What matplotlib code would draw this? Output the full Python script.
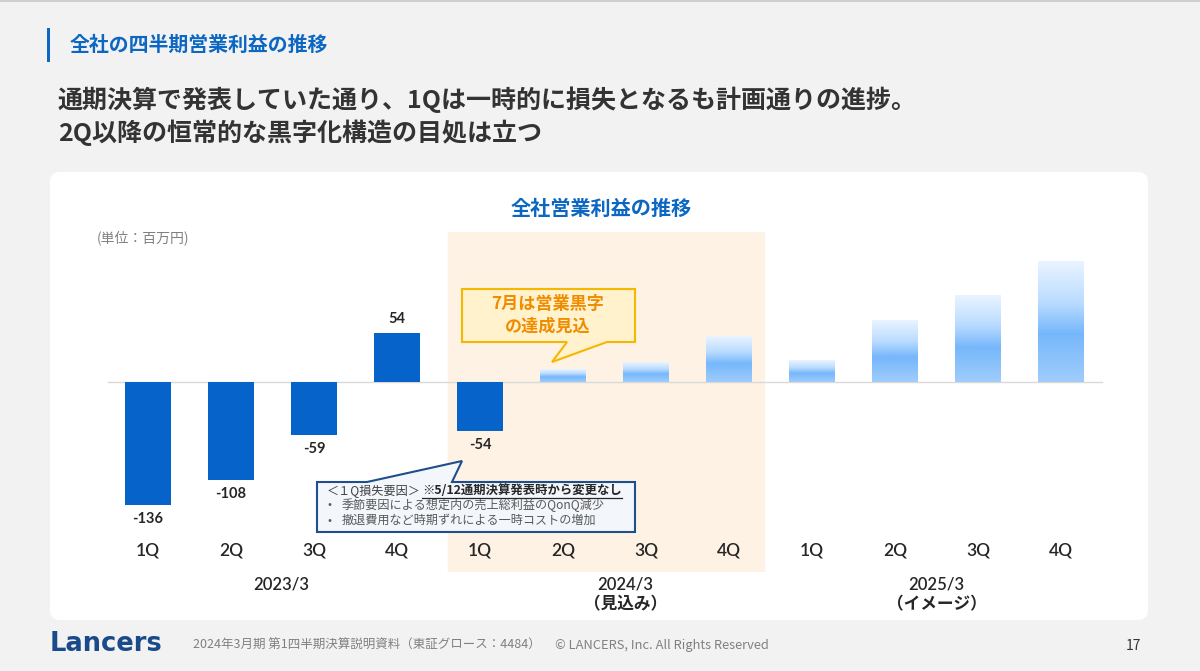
import numpy as np
import matplotlib
matplotlib.use('Agg')
import matplotlib.pyplot as plt
from matplotlib.patches import FancyBboxPatch, Polygon, Rectangle
from matplotlib.colors import LinearSegmentedColormap

plt.rcParams['font.family'] = ['Noto Sans CJK JP', 'DejaVu Sans']
latin = ['Lato', 'Noto Sans CJK JP', 'DejaVu Sans']

# data (百万円)
quarters = ['1Q', '2Q', '3Q', '4Q'] * 3
actual = [-136, -108, -59, 54, -54]          # 2023/3 1Q-4Q, 2024/3 1Q
outlook = [14, 22, 50, 24, 68, 96, 133]      # 2024/3 2Q-4Q, 2025/3 image bars (no values shown)
years = ['2023/3', '2024/3\n（見込み）', '2025/3\n（イメージ）']

blue = '#0b67c2'
bar_blue = '#0563c9'

fig = plt.figure(figsize=(12, 6.71), dpi=100)
fig.patch.set_facecolor('#f2f2f2')

# background layer in pixel coordinates
bg = fig.add_axes([0, 0, 1, 1], zorder=0)
bg.set_xlim(0, 1200)
bg.set_ylim(671, 0)
bg.axis('off')
bg.add_patch(Rectangle((0, 0), 1200, 2, fc='#cfcfcf', ec='none'))
bg.add_patch(FancyBboxPatch((50, 172), 1098, 448, boxstyle='round,pad=0,rounding_size=10',
                            fc='white', ec='none'))
bg.add_patch(Rectangle((47, 28), 3, 34, fc=blue, ec='none'))
bg.text(70, 44, '全社の四半期営業利益の推移', fontsize=14.3, fontweight='bold', color=blue, va='center')
bg.text(58, 100, '通期決算で発表していた通り、1Qは一時的に損失となるも計画通りの進捗。',
        fontsize=18, fontweight='bold', color='#333333', va='center')
bg.text(58, 133, '2Q以降の恒常的な黒字化構造の目処は立つ',
        fontsize=18, fontweight='bold', color='#333333', va='center')
bg.text(601, 208, '全社営業利益の推移', fontsize=14.5, fontweight='bold', color=blue,
        ha='center', va='center')
bg.text(97, 238, '(単位：百万円)', fontsize=10, color='#808080', va='center')

# footer
bg.text(50, 644, 'Lancers', fontsize=18.5, fontweight='bold', family='DejaVu Sans',
        color='#1b4a8a', va='center')
bg.text(193, 645, '2024年3月期 第1四半期決算説明資料（東証グロース：4484）',
        fontsize=9, color='#808080', va='center')
bg.text(555, 645, '© LANCERS, Inc. All Rights Reserved', fontsize=9.3, color='#808080', va='center')
bg.text(1133, 646, '17', fontsize=10, color='#333333', ha='center', va='center')

# chart axes
ax = fig.add_axes([50 / 1200, 1 - 572 / 671, 1098 / 1200, 340 / 671], zorder=1)
ax.set_facecolor('none')
ax.axis('off')

ax.axvspan(3.61, 7.42, color='#fdf2e4', zorder=0)
ax.plot([-0.48, 11.49], [0, 0], color='#d9d9d9', lw=1, zorder=1)

x = np.arange(len(quarters))
w = 0.55
ax.bar(x[:len(actual)], actual, width=w, color=bar_blue, zorder=3)
for i, v in zip(x, actual):
    ax.annotate(str(v), (i, v), xytext=(0, 10 if v > 0 else -10), textcoords='offset points',
                ha='center', va='center', fontsize=10.5, fontweight='bold', color='#262626',
                family=latin)

grad_cmap = LinearSegmentedColormap.from_list(
    'g', [(0, '#eaf4ff'), (0.35, '#b9dbff'), (0.6, '#76b7fb'), (1, '#a0cdfb')])
grad = np.linspace(0, 1, 256).reshape(-1, 1)
for i, v in zip(x[len(actual):], outlook):
    ax.imshow(grad, extent=(i - w / 2, i + w / 2, 0, v), cmap=grad_cmap,
              aspect='auto', zorder=3, interpolation='bilinear')

trans = ax.get_xaxis_transform()
for i, q in zip(x, quarters):
    ax.text(i, 0.062, q, transform=trans, ha='center', va='center', fontsize=12.5,
            fontweight='semibold', color='#262626', family=latin)
for xp, y in zip([1.6, 5.75, 9.5], years):
    ax.text(xp, -0.012, y, transform=trans, ha='center', va='top', fontsize=12,
            fontweight='semibold', color='#262626', linespacing=1.3, family=latin)

ax.set_xlim((50 - 148) / 83, (1148 - 148) / 83)
ax.set_ylim((382 - 572) / 0.905, (382 - 232) / 0.905)

# callouts, pixel coordinates
top = fig.add_axes([0, 0, 1, 1], zorder=5)
top.set_xlim(0, 1200)
top.set_ylim(671, 0)
top.axis('off')

top.add_patch(Polygon([(462, 289), (635, 289), (635, 342), (607, 342), (552, 362),
                       (567, 342), (462, 342)], closed=True, fc='#fff2cc', ec='#f5b800', lw=1.5))
top.text(548, 304, '7月は営業黒字', fontsize=12.3, fontweight='bold', color='#f08c00',
         ha='center', va='center')
top.text(548, 327, 'の達成見込', fontsize=12.3, fontweight='bold', color='#f08c00',
         ha='center', va='center')

top.add_patch(Polygon([(317, 482), (367, 482), (462, 461), (452, 482), (635, 482),
                       (635, 532), (317, 532)], closed=True, fc='#f3f6fb', ec='#1f4e8c', lw=1.5))
top.text(327, 491, '＜１Q損失要因＞', fontsize=8.7, color='#404040', va='center')
bold_txt = top.text(422, 491, '※5/12通期決算発表時から変更なし', fontsize=8.9, fontweight='bold',
                    color='#262626', va='center')
top.text(328, 505, '•', fontsize=8.7, color='#595959', va='center')
top.text(342, 505, '季節要因による想定内の売上総利益のQonQ減少', fontsize=8.7, color='#595959', va='center')
top.text(328, 520, '•', fontsize=8.7, color='#595959', va='center')
top.text(342, 520, '撤退費用など時期ずれによる一時コストの増加', fontsize=8.7, color='#595959', va='center')

# underline the bold note
fig.canvas.draw()
bb = bold_txt.get_window_extent(fig.canvas.get_renderer())
top.plot([bb.x0, bb.x1], [498, 498], color='#262626', lw=0.9)

fig.savefig('out.png', dpi=100, facecolor=fig.get_facecolor())
